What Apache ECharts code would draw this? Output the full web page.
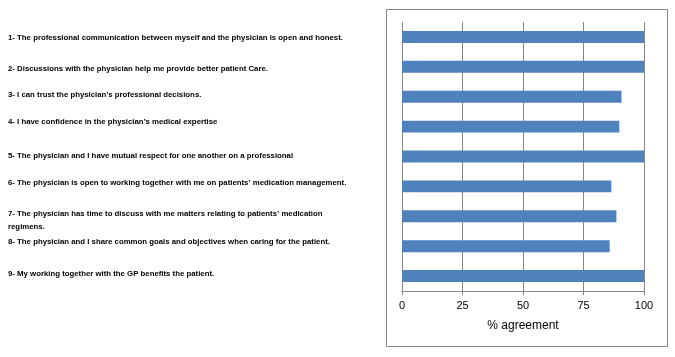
<!DOCTYPE html>
<html><head><meta charset="utf-8">
<script src="https://cdn.jsdelivr.net/npm/echarts@6/dist/echarts.min.js"></script>
<style>html,body{margin:0;padding:0;background:#fff}#c{width:675px;height:357px}</style>
</head><body><div id="c"></div>
<script>
var categories = [
  "1- The professional communication between myself and the physician is open and honest.",
  "2- Discussions with the physician help me provide better patient Care.",
  "3- I can trust the physician\u2019s professional decisions.",
  "4- I have confidence in the physician\u2019s medical expertise",
  "5- The physician and I have mutual respect for one another on a professional",
  "6- The physician is open to working together with me on patients\u2019 medication management.",
  "7- The physician has time to discuss with me matters relating to patients\u2019 medication\nregimens.",
  "8- The physician and I share common goals and objectives when caring for the patient.",
  "9- My working together with the GP benefits the patient."
];
var agreement = [100, 100, 90.7, 89.8, 100, 86.5, 88.6, 85.8, 100];
var xTicks = [0, 25, 50, 75, 100];
var axisTitle = "% agreement";

// vertical nudges of the left-hand statement labels (style only, px; +down / -up)
var labelShift = [1, 2, -2, -5, -1, -4, 4, -4, -2];
var rich = {};
labelShift.forEach(function (s, i) {
  rich['l' + i] = {
    fontFamily: 'Liberation Sans Narrow, Liberation Sans', fontWeight: 'bold',
    fontSize: 7.8, color: '#000', lineHeight: 13,
    padding: s >= 0 ? [2 * s, 0, 0, 0] : [0, 0, -2 * s, 0]
  };
});

var chart = echarts.init(document.getElementById('c'), null, {renderer: 'canvas'});
chart.setOption({
  animation: false,
  graphic: [{
    type: 'rect', shape: {x: 386.5, y: 9.5, width: 281, height: 337},
    style: {fill: 'none', stroke: '#868686', lineWidth: 1}, silent: true
  }],
  grid: {left: 402, right: 31, top: 22, bottom: 66, containLabel: false},
  xAxis: {
    type: 'value', min: xTicks[0], max: xTicks[xTicks.length - 1], interval: 25,
    name: axisTitle, nameLocation: 'middle', nameGap: 29,
    nameTextStyle: {fontFamily: 'Liberation Sans Narrow, Liberation Sans', fontSize: 12, color: '#000'},
    axisLine: {show: true, lineStyle: {color: '#868686', width: 1}},
    axisTick: {show: true, length: 4, lineStyle: {color: '#868686'}},
    axisLabel: {margin: 9, fontFamily: 'Liberation Sans', fontSize: 11, color: '#000'},
    splitLine: {show: true, lineStyle: {color: '#868686', width: 1}}
  },
  yAxis: {
    type: 'category', data: categories, inverse: true,
    axisLine: {show: false}, axisTick: {show: false}, splitLine: {show: false},
    axisLabel: {
      align: 'left', margin: 394, color: '#000',
      formatter: function (v, i) {
        return v.split('\n').map(function (line) { return '{l' + i + '|' + line + '}'; }).join('\n');
      },
      rich: rich
    }
  },
  series: [{
    type: 'bar', data: agreement, barWidth: '40%',
    itemStyle: {color: '#4f81bd'}
  }]
});
</script></body></html>
